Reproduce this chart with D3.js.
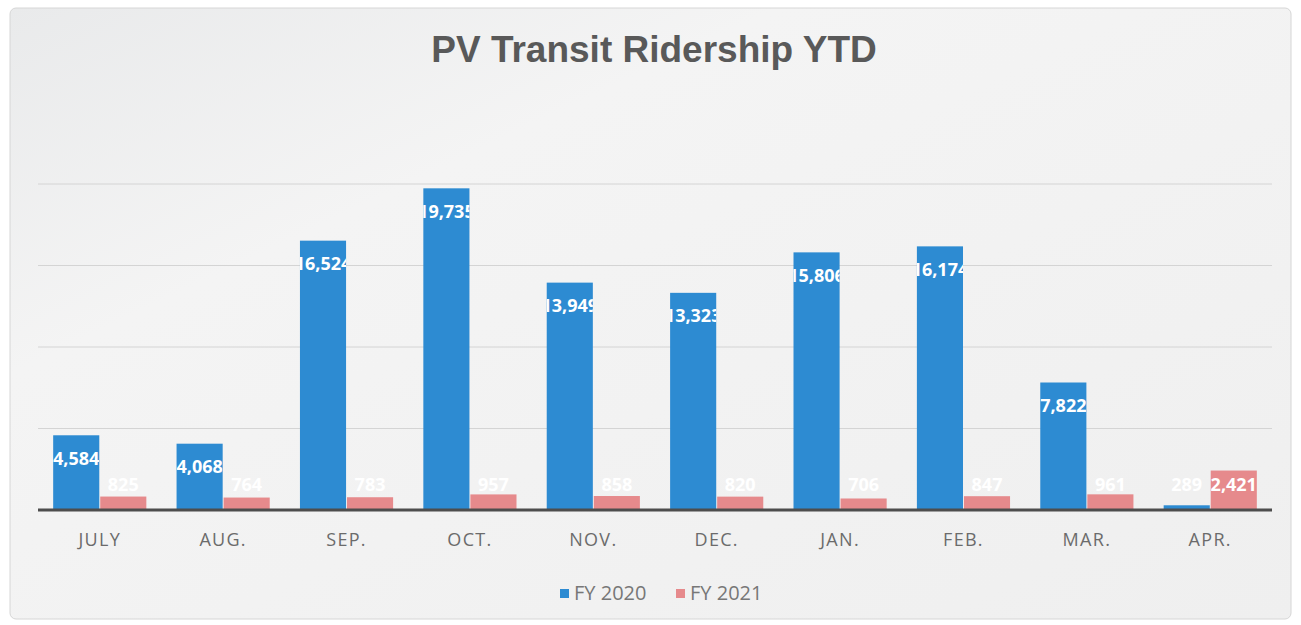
<!DOCTYPE html>
<html>
<head>
<meta charset="utf-8">
<script src="https://cdn.jsdelivr.net/npm/d3@7"></script>
<style>
  body { margin: 0; background: #fff; }
  #chart { width: 1301px; height: 625px; }
</style>
</head>
<body>
<div id="chart"></div>
<script>
const months = ["JULY", "AUG.", "SEP.", "OCT.", "NOV.", "DEC.", "JAN.", "FEB.", "MAR.", "APR."];
const fy2020 = [4584, 4068, 16524, 19735, 13949, 13323, 15806, 16174, 7822, 289];
const fy2021 = [825, 764, 783, 957, 858, 820, 706, 847, 961, 2421];
const seriesNames = ["FY 2020", "FY 2021"];
const seriesColors = ["#2d8bd2", "#e68a8c"];
const yTicks = [0, 5000, 10000, 15000, 20000];

const width = 1301, height = 625;
const margin = { top: 184, right: 29, bottom: 115, left: 38 };

const svg = d3.select("#chart").append("svg")
  .attr("width", width)
  .attr("height", height);

const defs = svg.append("defs");
const grad = defs.append("linearGradient").attr("id", "bg")
  .attr("x1", 0).attr("y1", 0).attr("x2", 1).attr("y2", 1);
grad.append("stop").attr("offset", "0%").attr("stop-color", "#e9eaeb");
grad.append("stop").attr("offset", "30%").attr("stop-color", "#f4f4f4");
grad.append("stop").attr("offset", "100%").attr("stop-color", "#efefef");

svg.append("rect")
  .attr("x", 10).attr("y", 8)
  .attr("width", width - 20).attr("height", height - 14)
  .attr("rx", 6)
  .attr("fill", "url(#bg)")
  .attr("stroke", "#d6d6d6");

svg.append("text")
  .attr("x", 654).attr("y", 62)
  .attr("text-anchor", "middle")
  .attr("font-family", "Liberation Sans, Arial, sans-serif")
  .attr("font-weight", "bold")
  .attr("font-size", 37)
  .attr("fill", "#595959")
  .text("PV Transit Ridership YTD");

const x = d3.scaleBand()
  .domain(months)
  .range([margin.left, width - margin.right])
  .paddingInner(0.245)
  .paddingOuter(0.123);

const xs = d3.scaleBand()
  .domain([0, 1])
  .range([0, x.bandwidth()])
  .paddingInner(0.02);

const y = d3.scaleLinear()
  .domain([0, 20000])
  .range([height - margin.bottom, margin.top]);

// gridlines
svg.append("g")
  .selectAll("line")
  .data(yTicks.slice(1))
  .join("line")
  .attr("x1", margin.left).attr("x2", width - margin.right)
  .attr("y1", d => y(d)).attr("y2", d => y(d))
  .attr("stroke", "#d4d4d4")
  .attr("stroke-width", 1);

const data = months.map((m, i) => ({ month: m, vals: [fy2020[i], fy2021[i]] }));

// clip labels that sit inside a bar to that bar
data.forEach((d, i) => d.vals.forEach((v, s) => {
  defs.append("clipPath").attr("id", `clip-${i}-${s}`)
    .append("rect")
    .attr("x", x(d.month) + xs(s)).attr("y", y(v))
    .attr("width", xs.bandwidth()).attr("height", y(0) - y(v));
}));

const groups = svg.append("g")
  .selectAll("g")
  .data(data)
  .join("g");

const bars = groups.selectAll("g.bar")
  .data((d, i) => d.vals.map((v, s) => ({ v, s, i, month: d.month })))
  .join("g").attr("class", "bar");

bars.append("rect")
  .attr("x", d => x(d.month) + xs(d.s))
  .attr("y", d => y(d.v))
  .attr("width", xs.bandwidth())
  .attr("height", d => y(0) - y(d.v))
  .attr("fill", d => seriesColors[d.s]);

const labelY = d => Math.min(y(d.v) + 23, y(0) - 25);

bars.append("text")
  .attr("x", d => x(d.month) + xs(d.s) + xs.bandwidth() / 2)
  .attr("y", labelY)
  .attr("dy", "0.35em")
  .attr("text-anchor", "middle")
  .attr("clip-path", d => labelY(d) - 10 > y(d.v) ? `url(#clip-${d.i}-${d.s})` : null)
  .attr("font-family", "Open Sans, sans-serif")
  .attr("font-weight", "bold")
  .attr("font-size", 18)
  .attr("fill", "#fff")
  .text(d => d3.format(",")(d.v));

// baseline
svg.append("line")
  .attr("x1", margin.left).attr("x2", width - margin.right)
  .attr("y1", y(0)).attr("y2", y(0))
  .attr("stroke", "#4d4d4d")
  .attr("stroke-width", 3);

// x axis labels
const xAxis = svg.append("g")
  .attr("transform", `translate(0,${y(0)})`)
  .call(d3.axisBottom(x).tickSize(0).tickPadding(23));
xAxis.select(".domain").remove();
xAxis.selectAll("text")
  .attr("font-family", "Open Sans, sans-serif")
  .attr("font-size", 18)
  .attr("letter-spacing", 1.3)
  .attr("fill", "#6b6b6b");

// legend
const legend = svg.append("g").attr("transform", "translate(560,593)");
const items = legend.selectAll("g")
  .data(seriesNames)
  .join("g")
  .attr("transform", (d, i) => `translate(${i * 116},0)`);
items.append("rect")
  .attr("x", 0).attr("y", -4)
  .attr("width", 9).attr("height", 9)
  .attr("fill", (d, i) => seriesColors[i]);
items.append("text")
  .attr("x", 14).attr("dy", "0.35em")
  .attr("font-family", "Open Sans, sans-serif")
  .attr("font-size", 20)
  .attr("fill", "#777")
  .text(d => d);
</script>
</body>
</html>
